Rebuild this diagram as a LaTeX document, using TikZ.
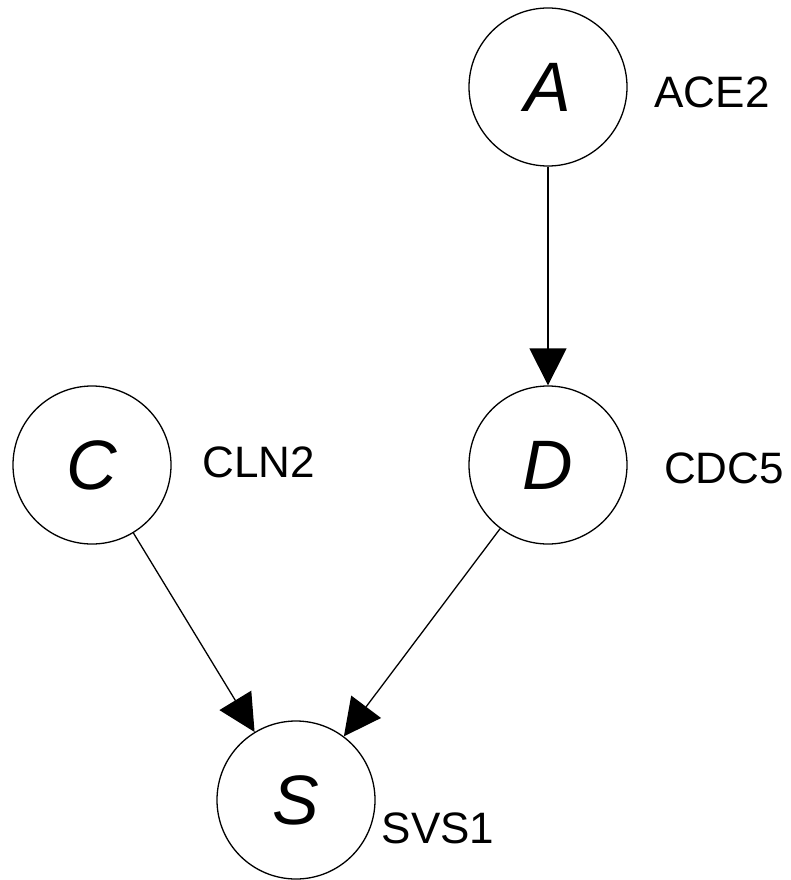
\documentclass[tikz,border=0pt]{standalone}
\usepackage{fontspec}
\setmainfont{Liberation Sans}
\usetikzlibrary{arrows.meta}
\begin{document}
\begin{tikzpicture}[x=1pt,y=-1pt,
  var/.style={circle,draw,line width=1.3pt,minimum size=158pt,inner sep=0pt,font=\fontsize{70}{70}\selectfont\itshape},
  lbl/.style={font=\fontsize{44}{44}\selectfont,inner sep=0pt},
  edge/.style={line width=1.3pt,-{Triangle[length=37pt,width=37pt]}}]
\useasboundingbox (0,0) rectangle (791,880);
\node[var] (A) at (548,87) {A};
\node[var] (D) at (548,465) {D};
\node[var] (C) at (92,465) {C};
\node[var] (S) at (296,800) {S};
\node[lbl] (lA) at (712,92) {ACE2};
\node[lbl] (lC) at (259,462) {CLN2};
\node[lbl] (lD) at (724,468) {CDC5};
\node[lbl] (lS) at (438,828) {SVS1};
\draw[edge] (A) -- (D);
\draw[edge] (C) -- (S);
\draw[edge] (D) -- (S);
\end{tikzpicture}
\end{document}
